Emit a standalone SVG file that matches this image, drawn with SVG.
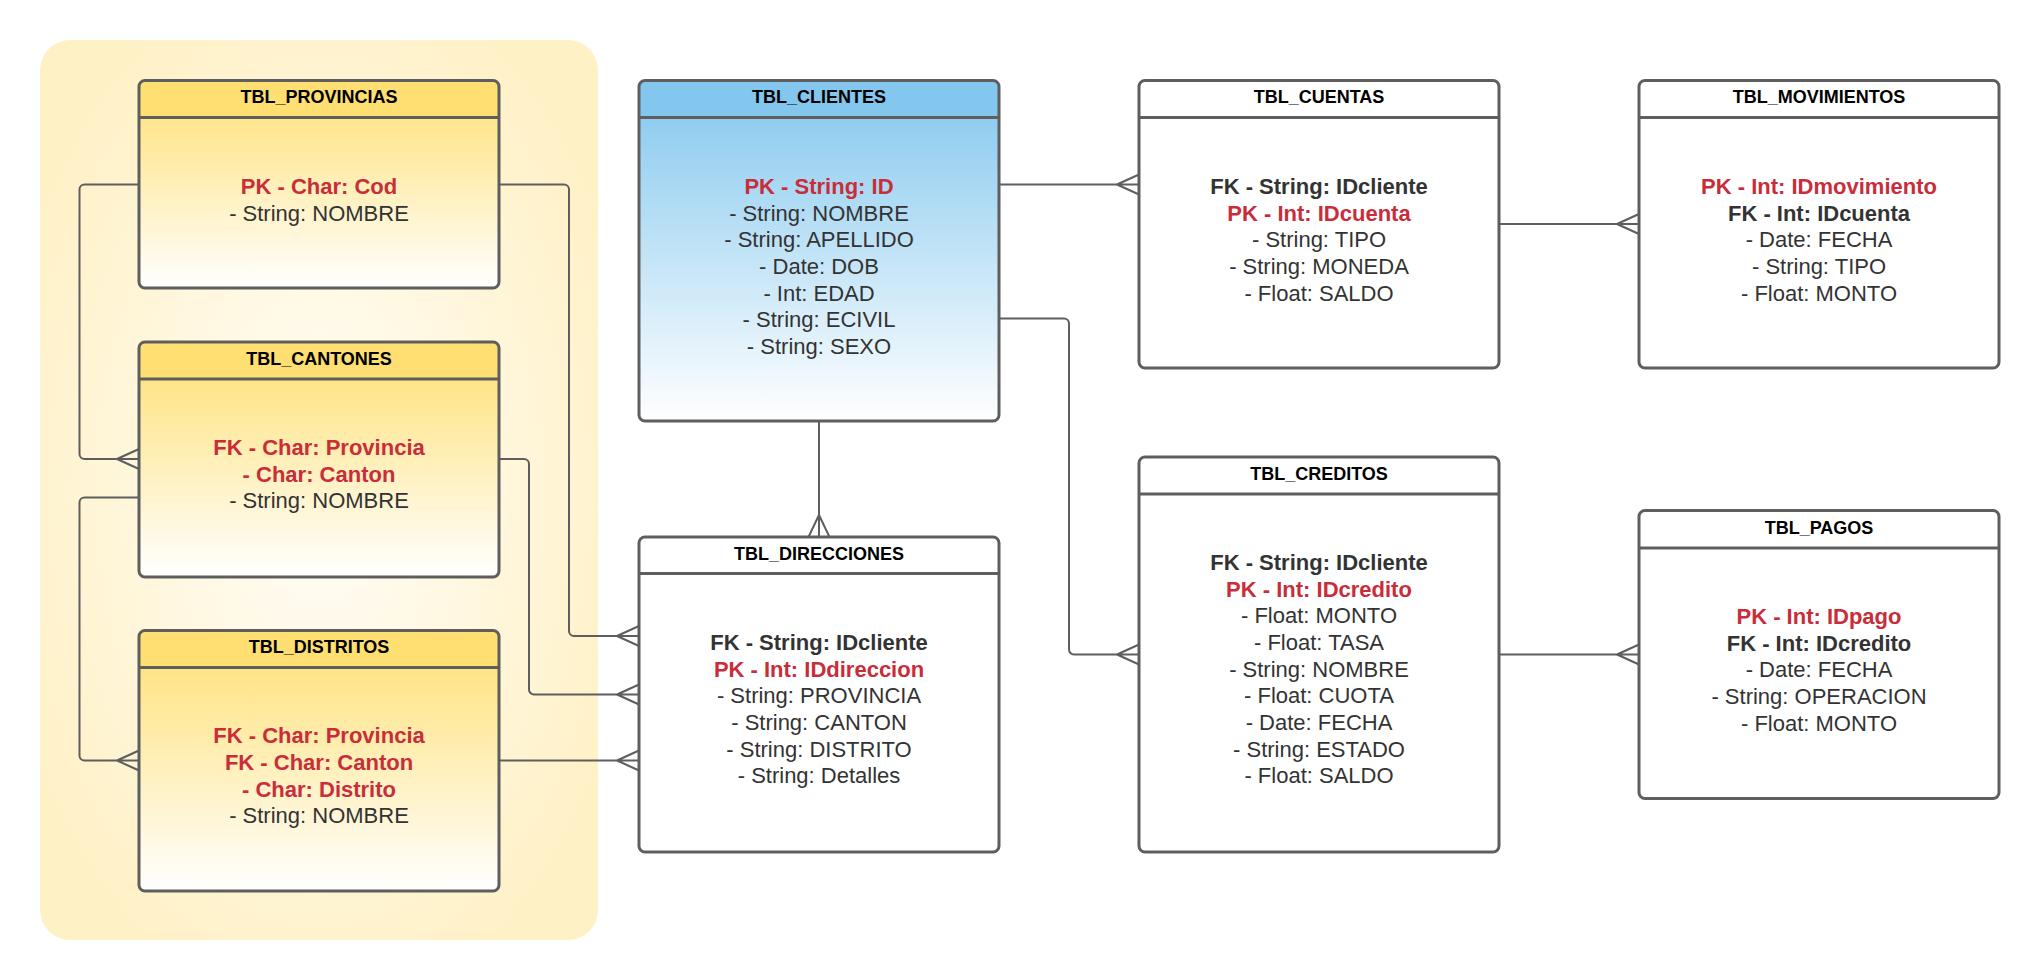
<svg xmlns="http://www.w3.org/2000/svg" width="2039" height="980" viewBox="0 0 2039 980">
<defs>
<radialGradient id="bgGrad" cx="0.5" cy="0.5" r="0.6">
<stop offset="0" stop-color="#fffdf8"/>
<stop offset="1" stop-color="#fff1c6"/>
</radialGradient>
<linearGradient id="yel" x1="0" y1="0" x2="0" y2="1">
<stop offset="0" stop-color="#ffdf71"/>
<stop offset="1" stop-color="#ffffff"/>
</linearGradient>
<linearGradient id="blu" x1="0" y1="0" x2="0" y2="1">
<stop offset="0" stop-color="#83c7ee"/>
<stop offset="1" stop-color="#ffffff"/>
</linearGradient>
</defs>
<style>
.frame{fill:none;stroke:#5e5e5e;stroke-width:3}
.sep{stroke:#5e5e5e;stroke-width:3}
.title{font-family:"Liberation Sans",Arial,sans-serif;font-size:18px;font-weight:bold;fill:#000000;text-anchor:middle}
.f{font-family:"Liberation Sans",Arial,sans-serif;font-size:22px;fill:#333333;text-anchor:middle}
.pk{font-weight:bold;fill:#c92d39}
.fk{font-weight:bold;fill:#333333}
.conn path{fill:none;stroke:#5e5e5e;stroke-width:2}
</style>
<rect x="40" y="40" width="558" height="900" rx="30" fill="url(#bgGrad)"/>

<g class="conn" id="connectors">
<path d="M139 184.5 H84.5 A5 5 0 0 0 79.5 189.5 V454 A5 5 0 0 0 84.5 459 H139 M117 459 L139 449 M117 459 L139 469"/>
<path d="M139 497.5 H84.5 A5 5 0 0 0 79.5 502.5 V755.5 A5 5 0 0 0 84.5 760.5 H139 M117 760.5 L139 750.5 M117 760.5 L139 770.5"/>
<path d="M499 184.5 H564 A5 5 0 0 1 569 189.5 V631 A5 5 0 0 0 574 636 H639 M617 636 L639 626 M617 636 L639 646"/>
<path d="M499 459 H524 A5 5 0 0 1 529 464 V689.5 A5 5 0 0 0 534 694.5 H639 M617 694.5 L639 684.5 M617 694.5 L639 704.5"/>
<path d="M499 760.5 H639 M617 760.5 L639 750.5 M617 760.5 L639 770.5"/>
<path d="M819 421 V537 M819 515 L808.5 537 M819 515 L829.5 537"/>
<path d="M999 184.5 H1139 M1117 184.5 L1139 174.5 M1117 184.5 L1139 194.5"/>
<path d="M999 318.5 H1064 A5 5 0 0 1 1069 323.5 V649.5 A5 5 0 0 0 1074 654.5 H1139 M1117 654.5 L1139 644.5 M1117 654.5 L1139 664.5"/>
<path d="M1499 224 H1639 M1617 224 L1639 214 M1617 224 L1639 234"/>
<path d="M1499 654.5 H1639 M1617 654.5 L1639 644.5 M1617 654.5 L1639 664.5"/>
</g>

<g id="tbl_provincias">
<rect x="139" y="80.5" width="360" height="207.5" rx="6" fill="url(#yel)"/>
<path d="M139 117.5 V86.5 A6 6 0 0 1 145 80.5 H493 A6 6 0 0 1 499 86.5 V117.5 Z" fill="#ffdf71"/>
<line class="sep" x1="139" y1="117.5" x2="499" y2="117.5"/>
<rect class="frame" x="139" y="80.5" width="360" height="207.5" rx="6"/>
<text class="title" x="319" y="103">TBL_PROVINCIAS</text>
<text class="f"><tspan class="pk" x="319" y="194">PK - Char: Cod</tspan><tspan x="319" y="220.7">- String: NOMBRE</tspan></text>
</g>

<g id="tbl_cantones">
<rect x="139" y="342" width="360" height="235" rx="6" fill="url(#yel)"/>
<path d="M139 379 V348 A6 6 0 0 1 145 342 H493 A6 6 0 0 1 499 348 V379 Z" fill="#ffdf71"/>
<line class="sep" x1="139" y1="379" x2="499" y2="379"/>
<rect class="frame" x="139" y="342" width="360" height="235" rx="6"/>
<text class="title" x="319" y="364.5">TBL_CANTONES</text>
<text class="f"><tspan class="pk" x="319" y="455">FK - Char: Provincia</tspan><tspan class="pk" x="319" y="481.7">- Char: Canton</tspan><tspan x="319" y="508.3">- String: NOMBRE</tspan></text>
</g>

<g id="tbl_distritos">
<rect x="139" y="630.5" width="360" height="260.5" rx="6" fill="url(#yel)"/>
<path d="M139 667.5 V636.5 A6 6 0 0 1 145 630.5 H493 A6 6 0 0 1 499 636.5 V667.5 Z" fill="#ffdf71"/>
<line class="sep" x1="139" y1="667.5" x2="499" y2="667.5"/>
<rect class="frame" x="139" y="630.5" width="360" height="260.5" rx="6"/>
<text class="title" x="319" y="653">TBL_DISTRITOS</text>
<text class="f"><tspan class="pk" x="319" y="743.3">FK - Char: Provincia</tspan><tspan class="pk" x="319" y="770">FK - Char: Canton</tspan><tspan class="pk" x="319" y="796.7">- Char: Distrito</tspan><tspan x="319" y="823.3">- String: NOMBRE</tspan></text>
</g>

<g id="tbl_clientes">
<rect x="639" y="80.5" width="360" height="340.5" rx="6" fill="url(#blu)"/>
<path d="M639 117.5 V86.5 A6 6 0 0 1 645 80.5 H993 A6 6 0 0 1 999 86.5 V117.5 Z" fill="#83c7ee"/>
<line class="sep" x1="639" y1="117.5" x2="999" y2="117.5"/>
<rect class="frame" x="639" y="80.5" width="360" height="340.5" rx="6"/>
<text class="title" x="819" y="103">TBL_CLIENTES</text>
<text class="f"><tspan class="pk" x="819" y="194">PK - String: ID</tspan><tspan x="819" y="220.7">- String: NOMBRE</tspan><tspan x="819" y="247.3">- String: APELLIDO</tspan><tspan x="819" y="274">- Date: DOB</tspan><tspan x="819" y="300.6">- Int: EDAD</tspan><tspan x="819" y="327.3">- String: ECIVIL</tspan><tspan x="819" y="354">- String: SEXO</tspan></text>
</g>

<g id="tbl_direcciones">
<rect x="639" y="537" width="360" height="315" rx="6" fill="#ffffff"/>
<line class="sep" x1="639" y1="573.5" x2="999" y2="573.5"/>
<rect class="frame" x="639" y="537" width="360" height="315" rx="6"/>
<text class="title" x="819" y="559.5">TBL_DIRECCIONES</text>
<text class="f"><tspan class="fk" x="819" y="650">FK - String: IDcliente</tspan><tspan class="pk" x="819" y="676.7">PK - Int: IDdireccion</tspan><tspan x="819" y="703.3">- String: PROVINCIA</tspan><tspan x="819" y="730">- String: CANTON</tspan><tspan x="819" y="756.7">- String: DISTRITO</tspan><tspan x="819" y="783.3">- String: Detalles</tspan></text>
</g>

<g id="tbl_cuentas">
<rect x="1139" y="80.5" width="360" height="287.5" rx="6" fill="#ffffff"/>
<line class="sep" x1="1139" y1="117.5" x2="1499" y2="117.5"/>
<rect class="frame" x="1139" y="80.5" width="360" height="287.5" rx="6"/>
<text class="title" x="1319" y="103">TBL_CUENTAS</text>
<text class="f"><tspan class="fk" x="1319" y="194">FK - String: IDcliente</tspan><tspan class="pk" x="1319" y="220.7">PK - Int: IDcuenta</tspan><tspan x="1319" y="247.3">- String: TIPO</tspan><tspan x="1319" y="274">- String: MONEDA</tspan><tspan x="1319" y="300.6">- Float: SALDO</tspan></text>
</g>

<g id="tbl_creditos">
<rect x="1139" y="457" width="360" height="395" rx="6" fill="#ffffff"/>
<line class="sep" x1="1139" y1="494" x2="1499" y2="494"/>
<rect class="frame" x="1139" y="457" width="360" height="395" rx="6"/>
<text class="title" x="1319" y="479.5">TBL_CREDITOS</text>
<text class="f"><tspan class="fk" x="1319" y="570">FK - String: IDcliente</tspan><tspan class="pk" x="1319" y="596.7">PK - Int: IDcredito</tspan><tspan x="1319" y="623.3">- Float: MONTO</tspan><tspan x="1319" y="650">- Float: TASA</tspan><tspan x="1319" y="676.7">- String: NOMBRE</tspan><tspan x="1319" y="703.3">- Float: CUOTA</tspan><tspan x="1319" y="730">- Date: FECHA</tspan><tspan x="1319" y="756.7">- String: ESTADO</tspan><tspan x="1319" y="783.3">- Float: SALDO</tspan></text>
</g>

<g id="tbl_movimientos">
<rect x="1639" y="80.5" width="360" height="287.5" rx="6" fill="#ffffff"/>
<line class="sep" x1="1639" y1="117.5" x2="1999" y2="117.5"/>
<rect class="frame" x="1639" y="80.5" width="360" height="287.5" rx="6"/>
<text class="title" x="1819" y="103">TBL_MOVIMIENTOS</text>
<text class="f"><tspan class="pk" x="1819" y="194">PK - Int: IDmovimiento</tspan><tspan class="fk" x="1819" y="220.7">FK - Int: IDcuenta</tspan><tspan x="1819" y="247.3">- Date: FECHA</tspan><tspan x="1819" y="274">- String: TIPO</tspan><tspan x="1819" y="300.6">- Float: MONTO</tspan></text>
</g>

<g id="tbl_pagos">
<rect x="1639" y="510.5" width="360" height="288" rx="6" fill="#ffffff"/>
<line class="sep" x1="1639" y1="548" x2="1999" y2="548"/>
<rect class="frame" x="1639" y="510.5" width="360" height="288" rx="6"/>
<text class="title" x="1819" y="533.5">TBL_PAGOS</text>
<text class="f"><tspan class="pk" x="1819" y="624">PK - Int: IDpago</tspan><tspan class="fk" x="1819" y="650.7">FK - Int: IDcredito</tspan><tspan x="1819" y="677.3">- Date: FECHA</tspan><tspan x="1819" y="704">- String: OPERACION</tspan><tspan x="1819" y="730.7">- Float: MONTO</tspan></text>
</g>
</svg>
